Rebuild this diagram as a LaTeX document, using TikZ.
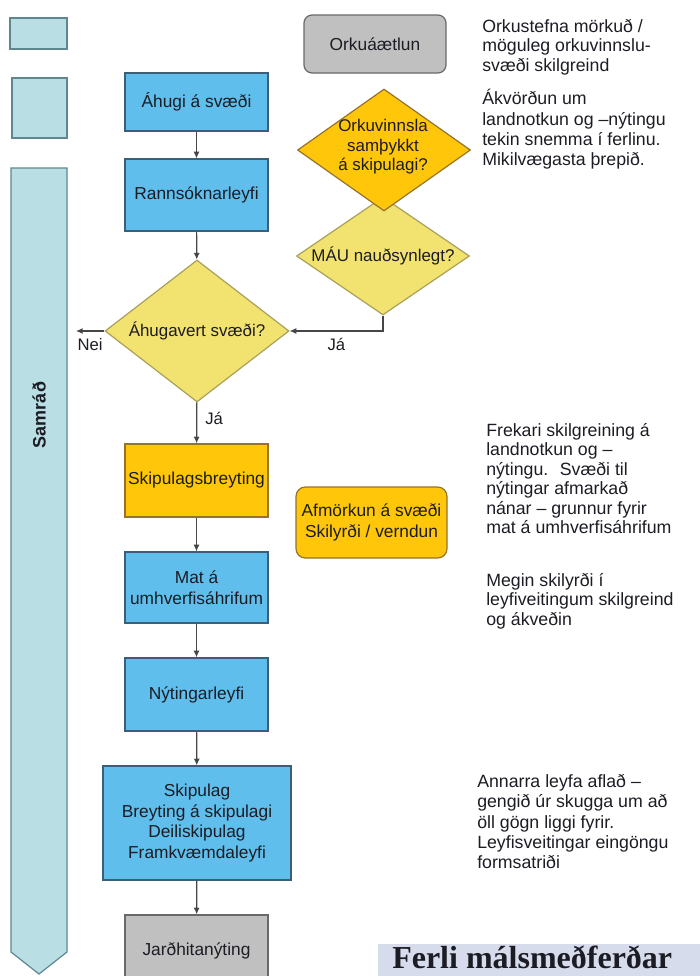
\documentclass[tikz,border=0pt]{standalone}
\usepackage{fontspec}
\setmainfont{Liberation Sans}
\newfontfamily\titlefont{Liberation Serif}
\usetikzlibrary{shapes.geometric,arrows.meta}
\definecolor{boxblue}{RGB}{95,190,235}
\definecolor{boxblueline}{RGB}{60,95,120}
\definecolor{teal}{RGB}{185,222,228}
\definecolor{tealline}{RGB}{95,135,145}
\definecolor{paleyel}{RGB}{242,226,112}
\definecolor{paleyelline}{RGB}{170,160,90}
\definecolor{orangey}{RGB}{255,198,10}
\definecolor{orangeline}{RGB}{150,115,40}
\definecolor{greyfill}{RGB}{192,192,192}
\definecolor{greyline}{RGB}{105,105,105}
\definecolor{titlebg}{RGB}{214,220,236}
\definecolor{txt}{RGB}{28,28,36}
\definecolor{lineg}{RGB}{70,70,70}
\tikzset{
  base/.style={draw, line width=0.9pt, inner sep=2pt, align=center, text=txt,
    font=\fontsize{13}{15.5}\selectfont},
  bluebox/.style={base, fill=boxblue, draw=boxblueline, minimum width=107.25pt},
  orangebox/.style={base, fill=orangey, draw=orangeline, minimum width=107.25pt},
  greybox/.style={base, fill=greyfill, draw=greyline},
  tealbox/.style={draw=tealline, fill=teal, line width=0.9pt},
  decision/.style={shape=diamond, draw=paleyelline, fill=paleyel, line width=0.9pt, inner sep=0pt},
  dtext/.style={text=txt, align=center, font=\fontsize{12.7}{14.6}\selectfont},
  note/.style={anchor=north west, inner sep=0pt, align=left, text=txt,
    font=\fontsize{13.3}{14.6}\selectfont},
  flow/.style={draw=lineg, line width=0.9pt, -{Latex[length=5pt,width=4.5pt]}},
  lbl/.style={text=txt, font=\fontsize{12.5}{14}\selectfont, inner sep=1pt}
}
\begin{document}
\begin{tikzpicture}[x=0.75pt,y=-0.75pt]
\useasboundingbox (0,0) rectangle (700,976);
\clip (0,0) rectangle (700,976);

% left column
\node[tealbox, minimum width=42.75pt, minimum height=23.25pt] (tl1) at (38.5,33.5) {};
\node[tealbox, minimum width=41.25pt, minimum height=45pt] (tl2) at (39.5,108) {};
\draw[tealbox] (11,168) -- (67,168) -- (67,952) -- (39,974) -- (11,952) -- cycle;
\node[rotate=90, text=txt, font=\fontsize{13.5}{15}\selectfont\bfseries] (samrad) at (39,415) {Samráð};

% main boxes
\node[greybox, rounded corners=6pt, minimum width=106.5pt, minimum height=43.5pt] (orkuaet) at (375,44) {Orkuáætlun};
\node[bluebox, minimum height=43.5pt] (ahugi) at (196.5,102) {Áhugi á svæði};
\node[bluebox, minimum height=54pt] (rann) at (196.5,195) {Rannsóknarleyfi};

\node[decision, minimum width=129.75pt, minimum height=88.5pt] (mau) at (383,256) {};
\node[dtext] (mautxt) at (mau.center) {MÁU nauðsynlegt?};
\node[decision, fill=orangey, draw=orangeline, minimum width=129.75pt, minimum height=91.5pt] (orkuv) at (384,150) {};
\node[dtext] (orkuvtxt) at (383,147) {Orkuvinnsla\\samþykkt\\á skipulagi?};

\node[decision, minimum width=138pt, minimum height=106.5pt] (ahugav) at (197,331) {};
\node[dtext] (ahugavtxt) at (ahugav.center) {Áhugavert svæði?};

\node[orangebox, minimum height=54.75pt] (skipb) at (196.5,480.5) {Skipulagsbreyting};
\node[orangebox, rounded corners=7pt, minimum width=113.25pt, minimum height=53.25pt] (afm) at (371.5,522.5) {Afmörkun á svæði\\Skilyrði / verndun};
\node[bluebox, minimum height=53.25pt] (mat) at (196.5,587.5) {Mat á\\umhverfisáhrifum};
\node[bluebox, minimum height=54.75pt] (nyt) at (196.5,694.5) {Nýtingarleyfi};
\node[bluebox, minimum width=141pt, minimum height=85.5pt] (skipul) at (197,823) {Skipulag\\Breyting á skipulagi\\Deiliskipulag\\Framkvæmdaleyfi};
\node[greybox, minimum width=107.25pt, minimum height=54pt] (jard) at (196.5,951) {Jarðhitanýting};

% connectors
\coordinate (neiend) at (76,331);
\draw[flow] (ahugi) -- (rann);
\draw[flow] (rann) -- (ahugav);
\draw[flow] (ahugav) -- node[lbl, pos=0.4, right=5pt] {Já} (skipb);
\draw[flow] (mau.south) |- node[lbl, pos=0.75, below=4pt] {Já} (ahugav.east);
\draw[flow] (ahugav.west) -- node[lbl, below=4pt] {Nei} (neiend);
\draw[flow] (skipb) -- (mat);
\draw[flow] (mat) -- (nyt);
\draw[flow] (nyt) -- (skipul);
\draw[flow] (skipul) -- (jard);

% notes
\node[note] (n1) at (482,19) {Orkustefna mörkuð /\\möguleg orkuvinnslu-\\svæði skilgreind};
\node[note, font=\fontsize{13.3}{15.3}\selectfont] (n2) at (482,89) {Ákvörðun um\\landnotkun og –nýtingu\\tekin snemma í ferlinu.\\Mikilvægasta þrepið.};
\node[note] (n3) at (486,423) {Frekari skilgreining á\\landnotkun og –\\nýtingu.~ Svæði til\\nýtingar afmarkað\\nánar – grunnur fyrir\\mat á umhverfisáhrifum};
\node[note] (n4) at (486,573) {Megin skilyrði í\\leyfiveitingum skilgreind\\og ákveðin};
\node[note, font=\fontsize{13.3}{15.3}\selectfont] (n5) at (477,774) {Annarra leyfa aflað –\\gengið úr skugga um að\\öll gögn liggi fyrir.\\Leyfisveitingar eingöngu\\formsatriði};

% title
\fill[titlebg] (378,944) rectangle (702,980);
\node[anchor=base west, inner sep=0pt, text=txt, font=\titlefont\fontsize{24}{27}\selectfont\bfseries] (title) at (392,968) {Ferli málsmeðferðar};
\end{tikzpicture}
\end{document}
